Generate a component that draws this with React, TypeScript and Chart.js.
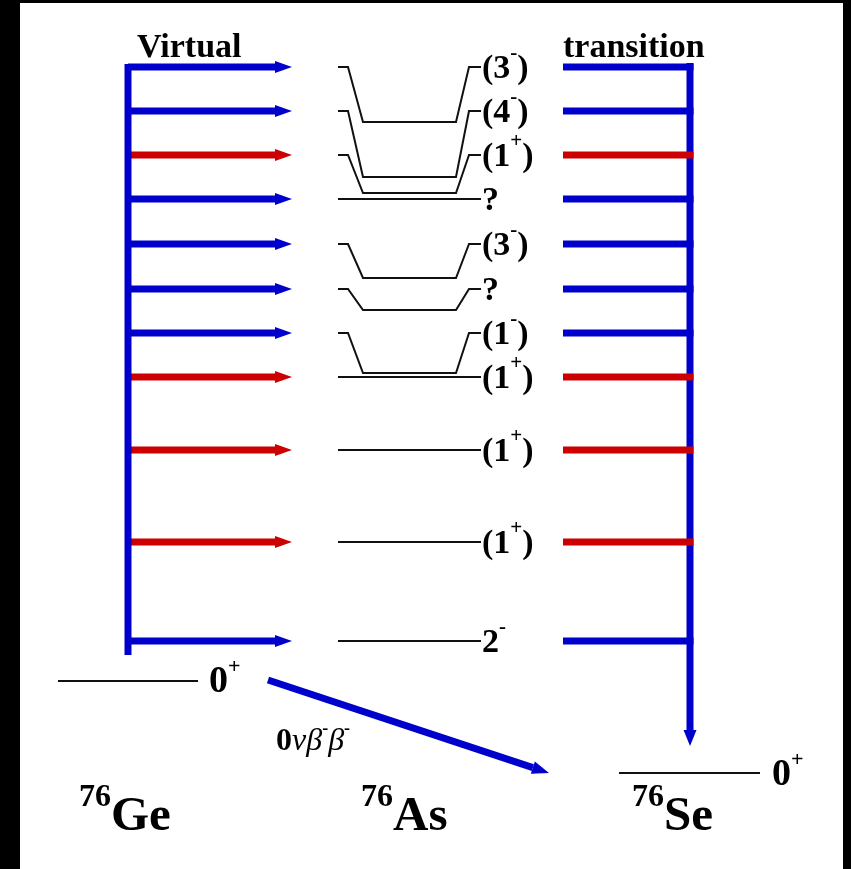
import React, { useEffect, useRef } from 'react';
import { Chart, registerables } from 'chart.js';

Chart.register(...registerables);

// ---------- data ----------
// Intermediate 76As states: row where each label / virtual-transition arrow sits,
// and the actual level the bracketed line drops to.
const stateLabels = ['(3^-)', '(4^-)', '(1^+)', '?', '(3^-)', '?', '(1^-)', '(1^+)', '(1^+)', '(1^+)', '2^-'];
const stateRows = [67, 111, 155, 199, 244, 289, 333, 377, 450, 542, 641];
const stateLevels = [122, 177, 193, 199, 278, 310, 373, 377, 450, 542, 641];
const arrowColors = ['blue', 'blue', 'red', 'blue', 'blue', 'blue', 'blue', 'red', 'red', 'red', 'blue'];

// Ground states (0+) of parent and daughter
const groundLevels = [681, 773]; // 76Ge, 76Se
const groundLabels = ['0^+', '0^+'];

const headerLabels = ['Virtual', 'transition'];
const nucleusMass = ['76', '76', '76'];
const nucleusSymbol = ['Ge', 'As', 'Se'];
const decayLabel = '0νβ^-β^-';

// ---------- style / layout constants ----------
const BLUE = '#0000cc';
const RED = '#cc0000';
const SERIF = '"Liberation Serif", "Times New Roman", serif';
const W = 851;
const H = 869;

type Arrow = { tipX: number; tipY: number; len: number; width: number; color: string };

function lineDs(points: { x: number; y: number }[], color: string, width: number, arrow?: Arrow) {
  return {
    type: 'line' as const,
    data: points,
    showLine: true,
    borderColor: color,
    backgroundColor: color,
    borderWidth: width,
    pointRadius: 0,
    pointHoverRadius: 0,
    fill: false,
    tension: 0,
    arrow,
  };
}

function arrowDs(x0: number, y0: number, tipX: number, tipY: number, color: string, width: number, len: number, headW: number) {
  const dx = tipX - x0;
  const dy = tipY - y0;
  const d = Math.hypot(dx, dy);
  const bx = tipX - (dx / d) * len;
  const by = tipY - (dy / d) * len;
  return lineDs([{ x: x0, y: y0 }, { x: bx, y: by }], color, width, { tipX, tipY, len, width: headW, color });
}

function drawRich(ctx: CanvasRenderingContext2D, x: number, y: number, parts: [string, string, number][]) {
  let cx = x;
  for (const [t, font, dy] of parts) {
    ctx.font = font;
    ctx.fillText(t, cx, y + dy);
    cx += ctx.measureText(t).width;
  }
}

function splitSup(label: string, mainFont: string, supFont: string, supDy: number): [string, string, number][] {
  const i = label.indexOf('^');
  if (i < 0) return [[label, mainFont, 0]];
  return [
    [label.slice(0, i), mainFont, 0],
    [label[i + 1], supFont, supDy],
    [label.slice(i + 2), mainFont, 0],
  ];
}

const bgPlugin = {
  id: 'bg',
  beforeDraw(chart: any) {
    const ctx = chart.ctx as CanvasRenderingContext2D;
    ctx.save();
    ctx.fillStyle = '#000';
    ctx.fillRect(0, 0, W, H);
    ctx.fillStyle = '#fff';
    ctx.fillRect(20, 3, 823, H - 3);
    ctx.restore();
  },
};

const arrowPlugin = {
  id: 'arrows',
  afterDatasetsDraw(chart: any) {
    const ctx = chart.ctx as CanvasRenderingContext2D;
    const xs = chart.scales.x;
    const ys = chart.scales.y;
    chart.data.datasets.forEach((ds: any) => {
      const a: Arrow | undefined = ds.arrow;
      if (!a) return;
      const last = ds.data[ds.data.length - 1];
      const bx = xs.getPixelForValue(last.x);
      const by = ys.getPixelForValue(last.y);
      const tx = xs.getPixelForValue(a.tipX);
      const ty = ys.getPixelForValue(a.tipY);
      const ang = Math.atan2(ty - by, tx - bx);
      const nx = -Math.sin(ang) * (a.width / 2);
      const ny = Math.cos(ang) * (a.width / 2);
      ctx.save();
      ctx.fillStyle = a.color;
      ctx.beginPath();
      ctx.moveTo(tx, ty);
      ctx.lineTo(bx + nx, by + ny);
      ctx.lineTo(bx - nx, by - ny);
      ctx.closePath();
      ctx.fill();
      ctx.restore();
    });
  },
};

const textPlugin = {
  id: 'texts',
  afterDraw(chart: any) {
    const ctx = chart.ctx as CanvasRenderingContext2D;
    const xs = chart.scales.x;
    const ys = chart.scales.y;
    const px = (v: number) => xs.getPixelForValue(v);
    const py = (v: number) => ys.getPixelForValue(v);
    ctx.save();
    ctx.fillStyle = '#000';
    ctx.textBaseline = 'alphabetic';
    ctx.textAlign = 'left';

    // headers
    ctx.font = `bold 34px ${SERIF}`;
    ctx.fillText(headerLabels[0], px(137), py(57));
    ctx.fillText(headerLabels[1], px(563), py(57));

    // state labels
    const mainF = `bold 34px ${SERIF}`;
    const supF = `bold 21px ${SERIF}`;
    stateLabels.forEach((lab, i) => {
      drawRich(ctx, px(482), py(stateRows[i] + 11), splitSup(lab, mainF, supF, -19));
    });

    // ground state labels
    drawRich(ctx, px(209), py(groundLevels[0] + 11), splitSup(groundLabels[0], `bold 38px ${SERIF}`, `bold 22px ${SERIF}`, -19));
    drawRich(ctx, px(772), py(groundLevels[1] + 12), splitSup(groundLabels[1], `bold 38px ${SERIF}`, `bold 22px ${SERIF}`, -19));

    // decay label 0νβ-β-
    {
      const parts: [string, string, number][] = [];
      const bold0 = `bold 32px ${SERIF}`;
      const ital = `italic 32px ${SERIF}`;
      const sup = `bold 18px ${SERIF}`;
      parts.push([decayLabel[0], bold0, 0]);
      const rest = decayLabel.slice(1);
      let k = 0;
      while (k < rest.length) {
        if (rest[k] === '^') {
          parts.push([rest[k + 1], sup, -16]);
          k += 2;
        } else {
          parts.push([rest[k], ital, 0]);
          k += 1;
        }
      }
      drawRich(ctx, px(276), py(750), parts);
    }

    // nucleus names
    const massX = [79, 361, 632];
    nucleusSymbol.forEach((sym, i) => {
      drawRich(ctx, px(massX[i]), py(830), [
        [nucleusMass[i], `bold 32px ${SERIF}`, -24],
        [sym, `bold 49px ${SERIF}`, 0],
      ]);
    });
    ctx.restore();
  },
};

export default function App() {
  const ref = useRef<HTMLCanvasElement | null>(null);

  useEffect(() => {
    if (!ref.current) return;
    const colorOf = (c: string) => (c === 'red' ? RED : BLUE);
    const datasets: any[] = [];

    // virtual transitions: 76Ge -> 76As (left arrows)
    datasets.push(lineDs([{ x: 128, y: 64 }, { x: 128, y: 655 }], BLUE, 7));
    stateRows.forEach((r, i) => {
      datasets.push(arrowDs(128, r, 292, r, colorOf(arrowColors[i]), 7, 17, 12));
    });

    // 76As -> 76Se (right bars)
    stateRows.forEach((r, i) => {
      datasets.push(lineDs([{ x: 563, y: r }, { x: 693.5, y: r }], colorOf(arrowColors[i]), 7));
    });
    datasets.push(arrowDs(690, 63, 690, 746, BLUE, 7, 16, 13));

    // 76As levels
    stateRows.forEach((r, i) => {
      const lv = stateLevels[i];
      if (lv === r) {
        datasets.push(lineDs([{ x: 338, y: r }, { x: 481, y: r }], '#111', 2));
      } else {
        datasets.push(
          lineDs(
            [
              { x: 338, y: r },
              { x: 348, y: r },
              { x: 363, y: lv },
              { x: 456, y: lv },
              { x: 469, y: r },
              { x: 481, y: r },
            ],
            '#111',
            2,
          ),
        );
      }
    });

    // ground states
    datasets.push(lineDs([{ x: 58, y: groundLevels[0] }, { x: 198, y: groundLevels[0] }], '#111', 2));
    datasets.push(lineDs([{ x: 619, y: groundLevels[1] }, { x: 760, y: groundLevels[1] }], '#111', 2));

    // 0νββ arrow
    datasets.push(arrowDs(268, 680, 549, 773, BLUE, 7, 17, 13));

    const chart = new Chart(ref.current, {
      type: 'scatter',
      data: { datasets },
      options: {
        animation: false,
        responsive: false,
        events: [],
        layout: { padding: 0 },
        plugins: { legend: { display: false }, tooltip: { enabled: false } },
        scales: {
          x: { type: 'linear', min: 0, max: W, display: false },
          y: { type: 'linear', min: 0, max: H, reverse: true, display: false },
        },
      },
      plugins: [bgPlugin, arrowPlugin, textPlugin],
    } as any);
    return () => chart.destroy();
  }, []);

  return (
    <div style={{ position: 'fixed', left: 0, top: 0, width: W, height: H }}>
      <canvas ref={ref} width={W} height={H} style={{ display: 'block', width: W, height: H }} />
    </div>
  );
}
